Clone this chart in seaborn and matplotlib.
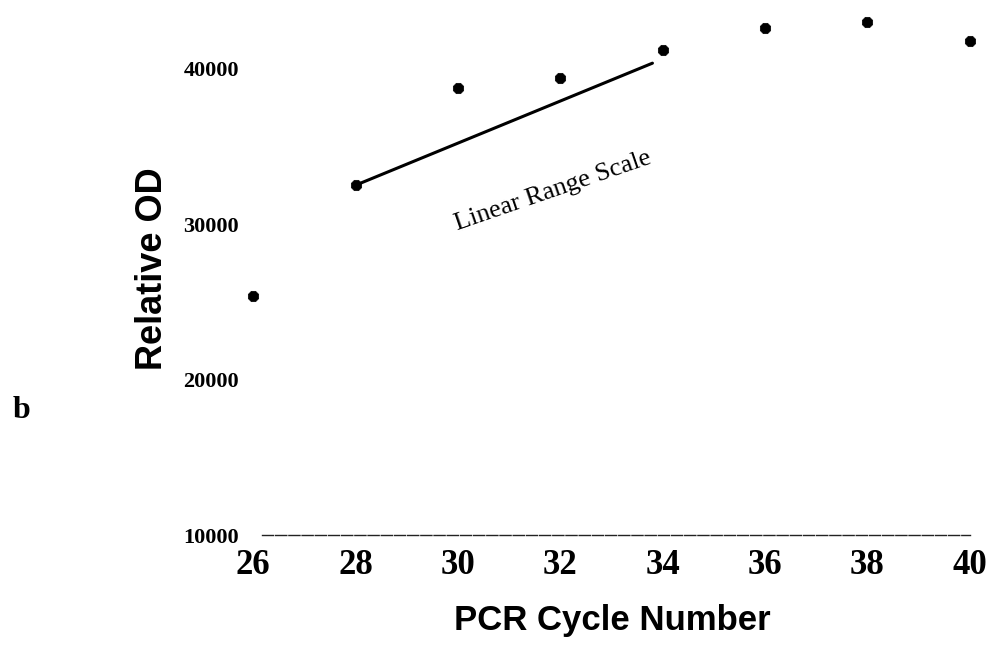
import matplotlib
matplotlib.use("Agg")
import matplotlib.pyplot as plt
import seaborn as sns
import pandas as pd

# Data
cycles = [26, 28, 30, 32, 34, 36, 38, 40]
relative_od = [25400, 32500, 38750, 39400, 41200, 42600, 43000, 41800]
fit_x = [28, 33.8]
fit_y = [32500, 40350]
xticks = [26, 28, 30, 32, 34, 36, 38, 40]
yticks = [10000, 20000, 30000, 40000]

sns.set_style("white")
plt.rcParams["text.color"] = "black"
plt.rcParams["axes.labelcolor"] = "black"
plt.rcParams["xtick.color"] = "black"
plt.rcParams["ytick.color"] = "black"

fig = plt.figure(figsize=(9.99, 6.5), dpi=100)
ax = fig.add_axes([0.2432, 0.1769, 0.7327, 0.818])

df = pd.DataFrame({"cycle": cycles, "od": relative_od})
sns.scatterplot(data=df, x="cycle", y="od", ax=ax, color="black",
                marker="8", s=65, edgecolor="black", linewidth=0.5, zorder=3)
sns.lineplot(x=fit_x, y=fit_y, ax=ax, color="black", linewidth=2.2, zorder=2)

ax.set_xlim(25.8, 40.1)
ax.set_ylim(10000, 44200)
ax.set_xticks(xticks)
ax.set_yticks(yticks)
ax.set_xticklabels([str(t) for t in xticks], fontfamily="Liberation Serif",
                   fontweight="bold", fontsize=25, color="black")
ax.set_yticklabels([str(t) for t in yticks], fontfamily="Liberation Serif",
                   fontweight="bold", fontsize=16, color="black")
ax.tick_params(axis="x", length=0, pad=10)
ax.tick_params(axis="y", length=0, pad=3)

for s in ["top", "right", "left"]:
    ax.spines[s].set_visible(False)
ax.spines["bottom"].set_bounds(26.18, 40)
ax.spines["bottom"].set_linewidth(1.0)
ax.spines["bottom"].set_linestyle((0, (8, 1.5)))
ax.spines["bottom"].set_color("#222222")

ax.set_xlabel("PCR Cycle Number", fontfamily="Liberation Sans",
              fontweight="bold", fontsize=25, color="black")
ax.set_ylabel("Relative OD", fontfamily="Liberation Sans",
              fontweight="bold", fontsize=26, color="black")
ax.xaxis.set_label_coords(0.504, -0.13)
ax.yaxis.set_label_coords(-0.10, 0.5)

ax.text(31.86, 32100, "Linear Range Scale", fontfamily="Liberation Serif",
        fontsize=19, rotation=19, ha="center", va="center",
        rotation_mode="anchor", color="black")

fig.text(0.013, 1 - 410 / 650, "b", fontfamily="Liberation Serif",
         fontweight="bold", fontsize=23, va="center", ha="left", color="black")

fig.savefig("out.png", dpi=100)
